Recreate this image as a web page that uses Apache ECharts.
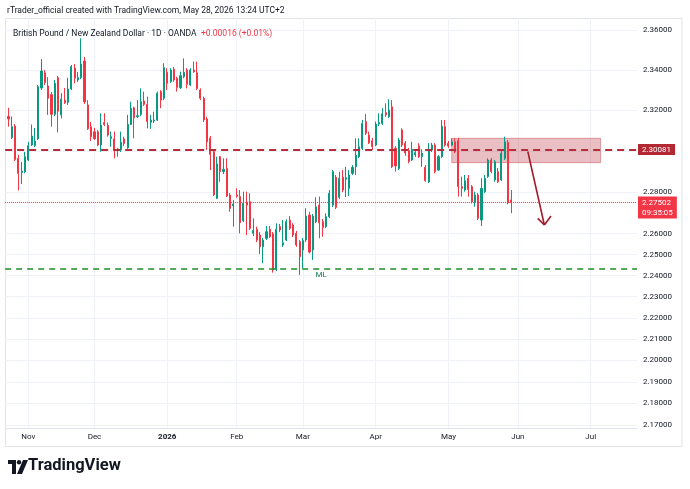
<!DOCTYPE html>
<html>

<head>
    <title>GBPNZD 1D</title>
    <meta charset="utf-8">
    <script src="https://cdn.jsdelivr.net/npm/echarts@6/dist/echarts.min.js"></script>
    <style>
        html,
        body {
            margin: 0;
            padding: 0;
            background: #fff;
        }

        #main {
            width: 690px;
            height: 489px;
        }
    </style>
</head>

<body>
    <div id="main"></div>
</body>
<script>
    // daily candles, first one is 24 Oct 2025, last one 28 May 2026
    var opens = [2.3170, 2.3067, 2.3123, 2.2965, 2.2896, 2.2900, 2.2957, 2.3030, 2.3028, 2.3061,
        2.3311, 2.3386, 2.3321, 2.3278, 2.3181, 2.3362, 2.3178, 2.3251, 2.3240, 2.3306,
        2.3410, 2.3351, 2.3362, 2.3445, 2.3227, 2.3120, 2.3095, 2.3095, 2.3030, 2.3140,
        2.3126, 2.3063, 2.3060, 2.3011, 2.3006, 2.3060, 2.3017, 2.3131, 2.3213, 2.3169,
        2.3181, 2.3247, 2.3230, 2.3142, 2.3148, 2.3153, 2.3293, 2.3260, 2.3389, 2.3342,
        2.3404, 2.3359, 2.3312, 2.3367, 2.3400, 2.3326, 2.3400, 2.3387, 2.3301, 2.3260,
        2.3158, 2.3063, 2.2998, 2.2771, 2.2973, 2.2900, 2.2916, 2.2787, 2.2734, 2.2787,
        2.2779, 2.2663, 2.2751, 2.2754, 2.2602, 2.2621, 2.2594, 2.2538, 2.2578, 2.2621,
        2.2599, 2.2427, 2.2634, 2.2546, 2.2570, 2.2666, 2.2642, 2.2602, 2.2562, 2.2522,
        2.2570, 2.2690, 2.2522, 2.2658, 2.2738, 2.2658, 2.2634, 2.2682, 2.2738, 2.2873,
        2.2776, 2.2873, 2.2863, 2.2819, 2.2892, 2.2924, 2.2973, 2.3014, 2.3145, 2.3079,
        2.3051, 2.3030, 2.3133, 2.3136, 2.3189, 2.3169, 2.3218, 2.3014, 2.2916, 2.3104,
        2.3039, 2.3003, 2.2957, 2.2982, 2.3025, 2.2973, 2.2921, 2.2851, 2.3006, 2.3030,
        2.2908, 2.2973, 2.3120, 2.3039, 2.3030, 2.3046, 2.3051, 2.2827, 2.2811, 2.2868,
        2.2827, 2.2754, 2.2787, 2.2666, 2.2803, 2.2876, 2.2957, 2.2860, 2.2900, 2.2860,
        2.2965, 2.3043, 2.2763];
    var closes = [2.3158, 2.3120, 2.2959, 2.2892, 2.2903, 2.2973, 2.3027, 2.3074, 2.3050, 2.3317,
        2.3395, 2.3338, 2.3260, 2.3181, 2.3334, 2.3196, 2.3256, 2.3238, 2.3306, 2.3417,
        2.3360, 2.3362, 2.3430, 2.3242, 2.3110, 2.3071, 2.3061, 2.3030, 2.3128, 2.3131,
        2.3079, 2.3071, 2.3006, 2.3003, 2.3044, 2.3038, 2.3131, 2.3211, 2.3164, 2.3174,
        2.3243, 2.3230, 2.3145, 2.3153, 2.3153, 2.3285, 2.3251, 2.3412, 2.3334, 2.3400,
        2.3351, 2.3314, 2.3372, 2.3389, 2.3329, 2.3400, 2.3392, 2.3309, 2.3260, 2.3153,
        2.3046, 2.2984, 2.2787, 2.2938, 2.2900, 2.2912, 2.2782, 2.2722, 2.2743, 2.2781,
        2.2653, 2.2747, 2.2738, 2.2626, 2.2615, 2.2570, 2.2538, 2.2570, 2.2610, 2.2586,
        2.2427, 2.2621, 2.2618, 2.2557, 2.2658, 2.2626, 2.2594, 2.2546, 2.2490, 2.2567,
        2.2685, 2.2512, 2.2685, 2.2730, 2.2653, 2.2631, 2.2682, 2.2795, 2.2900, 2.2727,
        2.2868, 2.2811, 2.2870, 2.2884, 2.2921, 2.2981, 2.3022, 2.3136, 2.3088, 2.3041,
        2.3022, 2.3133, 2.3140, 2.3183, 2.3178, 2.3202, 2.2924, 2.2928, 2.3055, 2.3030,
        2.2991, 2.2950, 2.3009, 2.2993, 2.2973, 2.2990, 2.2856, 2.3006, 2.3030, 2.2900,
        2.2973, 2.3122, 2.3030, 2.3025, 2.3046, 2.2997, 2.2827, 2.2819, 2.2856, 2.2814,
        2.2754, 2.2787, 2.2674, 2.2819, 2.2868, 2.2957, 2.2900, 2.2949, 2.2851, 2.2990,
        2.3046, 2.27486, 2.27502];
    var lows = [2.3120, 2.3060, 2.2952, 2.2809, 2.2840, 2.2893, 2.2952, 2.3025, 2.3020, 2.3055,
        2.3301, 2.3326, 2.3178, 2.3120, 2.3172, 2.3092, 2.3161, 2.3232, 2.3227, 2.3301,
        2.3334, 2.3341, 2.3355, 2.3232, 2.3104, 2.3050, 2.3055, 2.3025, 2.2997, 2.3123,
        2.3071, 2.3022, 2.2965, 2.2973, 2.2996, 2.3025, 2.3011, 2.3128, 2.3063, 2.3163,
        2.3172, 2.3222, 2.3112, 2.3109, 2.3138, 2.3148, 2.3211, 2.3251, 2.3301, 2.3336,
        2.3342, 2.3293, 2.3306, 2.3359, 2.3309, 2.3321, 2.3386, 2.3301, 2.3251, 2.3143,
        2.3006, 2.2908, 2.2782, 2.2767, 2.2851, 2.2889, 2.2777, 2.2706, 2.2634, 2.2773,
        2.2602, 2.2656, 2.2594, 2.2618, 2.2589, 2.2560, 2.2503, 2.2459, 2.2570, 2.2580,
        2.2414, 2.2422, 2.2608, 2.2537, 2.2565, 2.2618, 2.2584, 2.2537, 2.2403, 2.2435,
        2.2560, 2.2506, 2.2475, 2.2651, 2.2578, 2.2586, 2.2627, 2.2675, 2.2729, 2.2719,
        2.2767, 2.2801, 2.2777, 2.2782, 2.2884, 2.2884, 2.2967, 2.3006, 2.3079, 2.3035,
        2.3006, 2.3025, 2.3123, 2.3128, 2.3168, 2.3163, 2.2918, 2.2900, 2.2908, 2.3020,
        2.2977, 2.2941, 2.2952, 2.2972, 2.2967, 2.2924, 2.2851, 2.2845, 2.2996, 2.2892,
        2.2903, 2.2967, 2.3022, 2.3016, 2.3025, 2.2990, 2.2779, 2.2779, 2.2803, 2.2779,
        2.2746, 2.2730, 2.2666, 2.2637, 2.2796, 2.2870, 2.2893, 2.2851, 2.2845, 2.2855,
        2.2957, 2.2742, 2.2699];
    var highs = [2.3213, 2.3170, 2.3133, 2.2982, 2.2947, 2.2996, 2.3046, 2.3131, 2.3114, 2.3326,
        2.3455, 2.3400, 2.3365, 2.3291, 2.3351, 2.3370, 2.3285, 2.3311, 2.3362, 2.3425,
        2.3430, 2.3390, 2.3558, 2.3465, 2.3251, 2.3143, 2.3114, 2.3104, 2.3186, 2.3186,
        2.3141, 2.3096, 2.3096, 2.3016, 2.3096, 2.3071, 2.3178, 2.3243, 2.3218, 2.3251,
        2.3309, 2.3293, 2.3268, 2.3178, 2.3194, 2.3293, 2.3300, 2.3434, 2.3409, 2.3409,
        2.3415, 2.3367, 2.3392, 2.3458, 2.3409, 2.3409, 2.3442, 2.3442, 2.3309, 2.3268,
        2.3168, 2.3074, 2.3006, 2.2973, 2.2976, 2.2965, 2.2965, 2.2796, 2.2763, 2.2819,
        2.2811, 2.2803, 2.2803, 2.2795, 2.2674, 2.2634, 2.2608, 2.2580, 2.2637, 2.2637,
        2.2608, 2.2650, 2.2647, 2.2666, 2.2669, 2.2685, 2.2651, 2.2613, 2.2570, 2.2580,
        2.2723, 2.2705, 2.2695, 2.2776, 2.2779, 2.2671, 2.2698, 2.2811, 2.2908, 2.2884,
        2.2900, 2.2908, 2.2924, 2.2908, 2.2932, 2.3063, 2.3063, 2.3153, 2.3183, 2.3096,
        2.3065, 2.3145, 2.3186, 2.3211, 2.3235, 2.3255, 2.3251, 2.3025, 2.3065, 2.3112,
        2.3050, 2.3016, 2.3046, 2.3006, 2.3039, 2.3009, 2.2932, 2.3039, 2.3041, 2.3039,
        2.2981, 2.3153, 2.3153, 2.3050, 2.3063, 2.3063, 2.3065, 2.2876, 2.2884, 2.2884,
        2.2835, 2.2803, 2.2796, 2.2868, 2.2884, 2.2965, 2.2967, 2.2957, 2.2918, 2.3006,
        2.3071, 2.3055, 2.2811];

    // time scale: one empty slot before the data, then trading days into July
    var firstSlot = '2025-10-23';
    var noBarDays = ['2025-12-25', '2026-01-01'];
    var slotCount = 192;
    var monthNames = ['Jan', 'Feb', 'Mar', 'Apr', 'May', 'Jun', 'Jul', 'Aug', 'Sep', 'Oct', 'Nov', 'Dec'];

    // price scale (log)
    var labelPrices = [2.36, 2.34, 2.32, 2.28, 2.26, 2.25, 2.24, 2.23, 2.22, 2.21, 2.20, 2.19, 2.18, 2.17];
    var gridPrices = [2.36, 2.34, 2.32, 2.30, 2.28, 2.26, 2.25, 2.24, 2.23, 2.22, 2.21, 2.20, 2.19, 2.18, 2.17];
    var priceMin = 2.16861, priceMax = 2.36602;

    // drawings
    var resistance = 2.30081;
    var support = 2.24322;
    var lastPrice = 2.27502;
    var countdown = '09:35:05';
    var zoneTop = 2.3063, zoneBottom = 2.2944;
    var zoneFrom = 135, zoneTo = 180;           // slot numbers
    var arrowStart = [158, 2.2998], arrowEnd = [163, 2.2642];
    var arrowWingL = [161, 2.2674], arrowWingR = [165, 2.2685];

    var upColor = '#089981', downColor = '#f23645';
    var txt = '#131722';
    var font = 'Roboto, "Noto Sans", sans-serif';

    function buildDays(start, count, skip) {
        var out = [];
        var d = new Date(start + 'T00:00:00Z');
        while (out.length < count) {
            var key = d.toISOString().slice(0, 10);
            var wd = d.getUTCDay();
            if (wd !== 0 && wd !== 6 && skip.indexOf(key) < 0) out.push(key);
            d.setUTCDate(d.getUTCDate() + 1);
        }
        return out;
    }
    var days = buildDays(firstSlot, slotCount, noBarDays);

    function monthStart(i) {
        return i > 0 && days[i].slice(0, 7) !== days[i - 1].slice(0, 7);
    }

    var candles = ['-'];
    for (var i = 0; i < opens.length; i++) {
        candles.push([Math.log(opens[i]), Math.log(closes[i]), Math.log(lows[i]), Math.log(highs[i])]);
    }

    function pt(p) {
        return { coord: [days[p[0]], Math.log(p[1])] };
    }
    var arrowStyle = { color: '#9e1b2a', width: 1.6, type: 'solid' };

    var myChart = echarts.init(document.getElementById('main'));
    myChart.setOption({
        animation: false,
        backgroundColor: '#fff',
        textStyle: { fontFamily: font },
        title: [{
            left: 7, top: 5, padding: 0,
            text: 'rTrader_official created with TradingView.com, May 28, 2026 13:24 UTC+2',
            textStyle: { fontSize: 8.5, fontWeight: 'normal', color: txt, fontFamily: font, lineHeight: 11 }
        }, {
            left: 13, top: 24.5, padding: 0,
            text: '{a|British Pound / New Zealand Dollar · 1D · OANDA} {b|+0.00016 (+0.01%)}',
            textStyle: {
                fontFamily: font, fontWeight: 'normal',
                rich: {
                    a: { fontSize: 8.5, color: txt, fontFamily: font, fontWeight: 'normal', lineHeight: 11 },
                    b: { fontSize: 8.5, color: downColor, fontFamily: font, fontWeight: 'normal', lineHeight: 11 }
                }
            }
        }],
        graphic: [{
            type: 'rect', silent: true, z: -1,
            shape: { x: 5.5, y: 18.5, width: 676.5, height: 428 },
            style: { fill: null, stroke: '#e0e3eb', lineWidth: 1 }
        }, {
            // TradingView mark
            type: 'group', left: 8, top: 460,
            children: [
                { type: 'polygon', shape: { points: [[0, 0], [8, 0], [8, 14], [4, 14], [4, 4], [0, 4]] }, style: { fill: txt } },
                { type: 'circle', shape: { cx: 11, cy: 2.2, r: 2.2 }, style: { fill: txt } },
                { type: 'polygon', shape: { points: [[15, 0], [20, 0], [14, 14], [9, 14]] }, style: { fill: txt } }
            ]
        }, {
            type: 'text', left: 28, top: 457,
            style: { text: 'TradingView', fontSize: 16.5, fontWeight: 'bold', fill: txt, fontFamily: font }
        }],
        grid: { left: 5.15, right: 53, top: 18, bottom: 61, containLabel: false },
        xAxis: {
            type: 'category',
            data: days,
            boundaryGap: false,
            axisLine: { show: true, lineStyle: { color: '#e0e3eb' } },
            axisTick: { show: false },
            axisLabel: {
                interval: function (index) { return monthStart(index); },
                formatter: function (v) {
                    var m = +v.slice(5, 7);
                    return m === 1 ? '{y|' + v.slice(0, 4) + '}' : monthNames[m - 1];
                },
                color: txt, fontSize: 8, margin: 5, fontFamily: font,
                rich: { y: { fontWeight: 'bold', fontSize: 8, color: txt, fontFamily: font } }
            },
            splitLine: {
                show: true,
                interval: function (index) { return monthStart(index); },
                lineStyle: { color: '#eef1f6', width: 1 }
            }
        },
        yAxis: {
            type: 'value',
            position: 'right',
            min: Math.log(priceMin),
            max: Math.log(priceMax),
            axisLine: { show: false },
            axisTick: { show: false, customValues: gridPrices.map(Math.log) },
            axisLabel: {
                customValues: labelPrices.map(Math.log),
                formatter: function (v) { return Math.exp(v).toFixed(5); },
                color: txt, fontSize: 8, margin: 6, fontFamily: font
            },
            splitLine: { show: true, lineStyle: { color: '#eef1f6', width: 1 } }
        },
        series: [{
            type: 'candlestick',
            data: candles,
            barWidth: 1.6,
            clip: false,
            itemStyle: {
                color: upColor, color0: downColor,
                borderColor: upColor, borderColor0: downColor,
                borderWidth: 1
            },
            markArea: {
                silent: true,
                precision: 10,
                itemStyle: { color: 'rgba(184, 44, 56, 0.3)', borderColor: 'rgba(184, 44, 56, 0.4)', borderWidth: 1 },
                data: [[{ coord: [days[zoneFrom], Math.log(zoneTop)] }, { coord: [days[zoneTo], Math.log(zoneBottom)] }]]
            },
            markLine: {
                silent: true,
                precision: 10,
                symbol: ['none', 'none'],
                label: { show: false },
                data: [{
                    yAxis: Math.log(resistance),
                    lineStyle: { color: '#b52d3a', type: [7, 5], width: 2 },
                    label: {
                        show: true, position: 'end', distance: 1, formatter: resistance.toFixed(5),
                        backgroundColor: '#b22833', color: '#fff', padding: [2, 4, 1, 4], fontSize: 8, fontFamily: font
                    }
                }, {
                    yAxis: Math.log(support),
                    lineStyle: { color: '#1e8c2a', type: [6, 5], width: 1.5 },
                    label: {
                        show: true, position: 'insideMiddleBottom', distance: 2, formatter: 'ML',
                        color: '#1e7b50', fontSize: 8, fontFamily: font
                    }
                }, {
                    yAxis: Math.log(support),
                    lineStyle: { opacity: 0 },
                    label: {
                        show: true, position: 'end', distance: 1, formatter: support.toFixed(5),
                        backgroundColor: '#26912f', color: '#fff', padding: [2, 4, 1, 4], fontSize: 8, fontFamily: font
                    }
                }, {
                    yAxis: Math.log(lastPrice),
                    lineStyle: { color: downColor, type: 'dotted', width: 1 },
                    label: {
                        show: true, position: 'end', distance: 1, offset: [0, 5],
                        formatter: lastPrice.toFixed(5) + '\n' + countdown,
                        backgroundColor: downColor, color: '#fff', padding: [1, 4, 1, 4], fontSize: 8,
                        lineHeight: 10, fontFamily: font
                    }
                },
                [Object.assign(pt(arrowStart), { lineStyle: arrowStyle }), pt(arrowEnd)],
                [Object.assign(pt(arrowWingL), { lineStyle: arrowStyle }), pt(arrowEnd)],
                [Object.assign(pt(arrowWingR), { lineStyle: arrowStyle }), pt(arrowEnd)]
                ]
            }
        }]
    });
</script>

</html>
